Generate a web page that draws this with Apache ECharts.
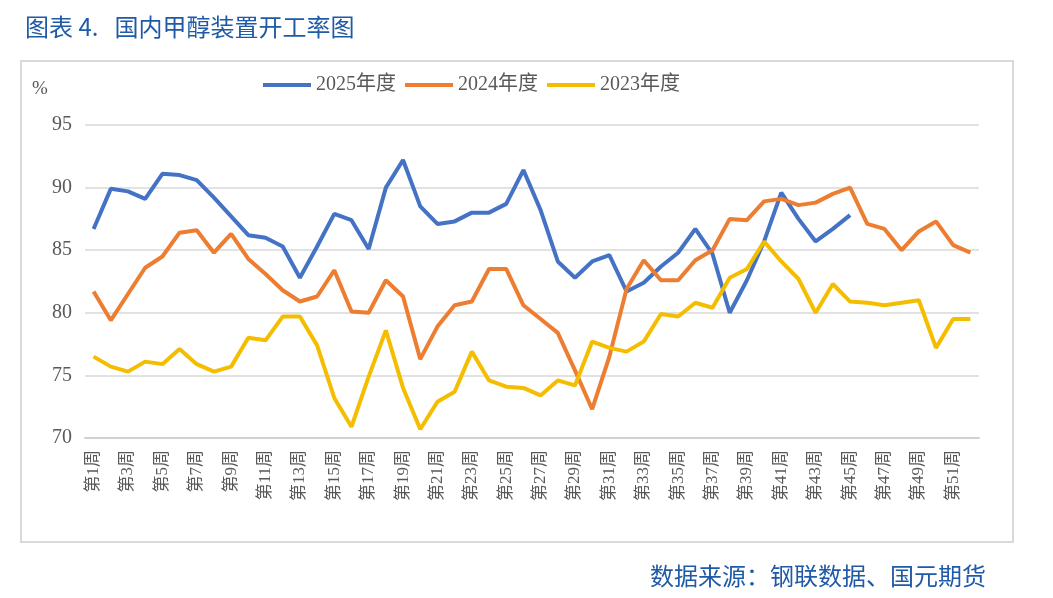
<!DOCTYPE html>
<html>
<head>
<meta charset="utf-8">
<script src="https://cdn.jsdelivr.net/npm/echarts@6/dist/echarts.min.js"></script>
<style>
html,body{margin:0;padding:0;background:#fff;}
#c{width:1053px;height:598px;}
</style>
</head>
<body>
<div id="c"></div>
<script>
const weeks = [];
for (let i = 1; i <= 52; i++) weeks.push('第' + i + '周');

const s2025 = [86.7, 89.9, 89.7, 89.1, 91.1, 91.0, 90.6, 89.2, 87.7, 86.2, 86.0, 85.3, 82.8, 85.3,
  87.9, 87.4, 85.1, 90.0, 92.2, 88.5, 87.1, 87.3, 88.0, 88.0, 88.7, 91.4, 88.2, 84.1, 82.8, 84.1,
  84.6, 81.7, 82.4, 83.7, 84.8, 86.7, 84.7, 80.0, 82.6, 85.7, 89.6, 87.5, 85.7, 86.7, 87.8];
const s2024 = [81.7, 79.4, 81.5, 83.6, 84.5, 86.4, 86.6, 84.8, 86.3, 84.3, 83.1, 81.8, 80.9, 81.3,
  83.4, 80.1, 80.0, 82.6, 81.3, 76.3, 78.9, 80.6, 80.9, 83.5, 83.5, 80.6, 79.5, 78.4, 75.4, 72.3,
  76.5, 81.9, 84.2, 82.6, 82.6, 84.2, 85.0, 87.5, 87.4, 88.9, 89.1, 88.6, 88.8, 89.5, 90.0,
  87.1, 86.7, 85.0, 86.5, 87.3, 85.4, 84.8];
const s2023 = [76.5, 75.7, 75.3, 76.1, 75.9, 77.1, 75.9, 75.3, 75.7, 78.0, 77.8, 79.7, 79.7, 77.4,
  73.2, 70.9, 74.9, 78.6, 74.0, 70.7, 72.9, 73.7, 76.9, 74.6, 74.1, 74.0, 73.4, 74.6, 74.2, 77.7,
  77.2, 76.9, 77.7, 79.9, 79.7, 80.8, 80.4, 82.8, 83.5, 85.7, 84.1, 82.7, 80.0, 82.3, 80.9,
  80.8, 80.6, 80.8, 81.0, 77.2, 79.5, 79.5];
const yTicks = [70, 75, 80, 85, 90, 95];
const seriesNames = ['2025年度', '2024年度', '2023年度'];

const serif = '"Liberation Serif", "Times New Roman", "Noto Sans CJK SC", serif';
const sans = '"Noto Sans CJK SC", "Liberation Sans", sans-serif';
const chart = echarts.init(document.getElementById('c'));
const mk = (name, data, color) => ({
  name, type: 'line', data, symbol: 'none', smooth: false,
  lineStyle: { width: 4, color }, itemStyle: { color },
  emphasis: { disabled: true }
});
chart.setOption({
  animation: false,
  backgroundColor: '#fff',
  title: [
    { text: '图表 4.   国内甲醇装置开工率图', left: 20, top: 10,
      textStyle: { fontFamily: sans, fontSize: 24, fontWeight: 'normal', color: '#1f5aa6' } },
    { text: '数据来源：钢联数据、国元期货', right: 62, top: 559,
      textStyle: { fontFamily: sans, fontSize: 24, fontWeight: 'normal', color: '#1f5aa6' } }
  ],
  graphic: [
    { type: 'rect', shape: { x: 21, y: 61, width: 992, height: 481 },
      style: { fill: 'none', stroke: '#d9d9d9', lineWidth: 2 }, silent: true },
    { type: 'text', left: 32, top: 80,
      style: { text: '%', fontFamily: serif, fontSize: 19, fill: '#595959' } }
  ],
  legend: {
    data: seriesNames, left: 258, top: 70, itemWidth: 48, itemHeight: 4, itemGap: 9,
    icon: 'rect',
    textStyle: { fontFamily: serif, fontSize: 20, color: '#595959' }
  },
  grid: { left: 85, right: 74, top: 125, bottom: 160, containLabel: false },
  xAxis: {
    type: 'category', data: weeks, boundaryGap: true,
    axisLine: { show: true, lineStyle: { color: '#d0d0d0', width: 2 } },
    axisTick: { show: false },
    axisLabel: { interval: 1, rotate: 90, margin: 12, fontFamily: serif, fontSize: 17, color: '#595959' }
  },
  yAxis: {
    type: 'value', min: 70, max: 95, interval: 5,
    axisLine: { show: false }, axisTick: { show: false },
    splitLine: { lineStyle: { color: '#d9d9d9', width: 1.5 } },
    axisLabel: { margin: 13, fontFamily: serif, fontSize: 20, color: '#595959',
      formatter: v => yTicks.includes(v) ? String(v) : '' }
  },
  series: [
    mk(seriesNames[0], s2025, '#4472c4'),
    mk(seriesNames[1], s2024, '#ed7d31'),
    mk(seriesNames[2], s2023, '#f5bd00')
  ]
});
</script>
</body>
</html>
